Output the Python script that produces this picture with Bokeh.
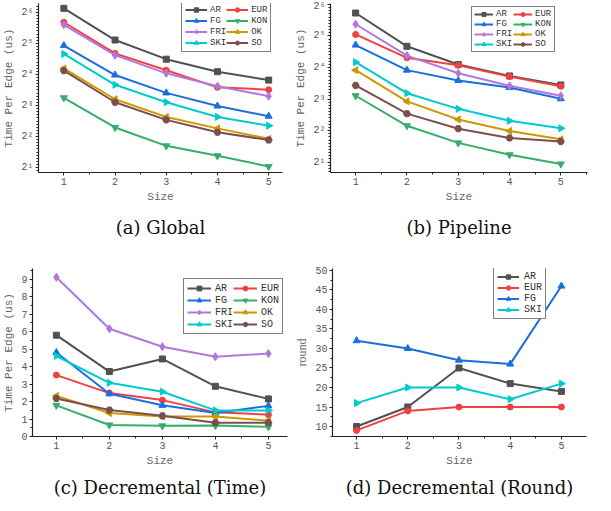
import math
from bokeh.plotting import figure
from bokeh.models import (Legend, LegendItem, SingleIntervalTicker, FixedTicker,
                          CustomJSTickFormatter, Title, Range1d)
from bokeh.layouts import column, row
from bokeh.embed import file_html
from bokeh.resources import INLINE

# ---------------- data ----------------
sizes = [1, 2, 3, 4, 5]
names = ["AR", "EUR", "FG", "KON", "FRI", "OK", "SKI", "SO"]

# (a) Global: time per edge (us)
global_AR = [70.0, 34.5, 22.5, 17.0, 14.1]
global_EUR = [51.3, 25.6, 17.6, 12.0, 11.4]
global_FG = [30.5, 15.8, 10.6, 7.9, 6.3]
global_KON = [9.5, 4.9, 3.25, 2.6, 2.05]
global_FRI = [48.5, 24.6, 16.4, 12.3, 9.85]
global_OK = [18.3, 9.2, 6.2, 4.8, 3.8]
global_SKI = [25.3, 12.7, 8.6, 6.2, 5.1]
global_SO = [17.4, 8.6, 5.8, 4.4, 3.7]

# (b) Pipeline: time per edge (us)
pipe_AR = [53.0, 25.5, 17.1, 13.3, 10.9]
pipe_EUR = [33.1, 19.8, 16.8, 13.1, 10.6]
pipe_FG = [26.2, 15.1, 12.0, 10.3, 8.05]
pipe_KON = [8.6, 4.44, 3.05, 2.35, 1.92]
pipe_FRI = [41.4, 20.8, 14.1, 10.7, 8.6]
pipe_OK = [15.1, 7.6, 5.1, 3.97, 3.3]
pipe_SKI = [18.0, 9.1, 6.45, 4.96, 4.2]
pipe_SO = [10.8, 5.8, 4.17, 3.4, 3.14]

# (c) Decremental (Time): time per edge (us)
dec_AR = [5.79, 3.71, 4.43, 2.87, 2.15]
dec_EUR = [3.51, 2.48, 2.08, 1.38, 1.25]
dec_FG = [4.8, 2.44, 1.78, 1.34, 1.75]
dec_KON = [1.78, 0.66, 0.61, 0.63, 0.55]
dec_FRI = [9.1, 6.16, 5.13, 4.56, 4.74]
dec_OK = [2.32, 1.34, 1.14, 1.14, 0.9]
dec_SKI = [4.6, 3.07, 2.56, 1.49, 1.49]
dec_SO = [2.17, 1.51, 1.18, 0.79, 0.79]

# (d) Decremental (Round): rounds
round_names = ["AR", "EUR", "FG", "SKI"]
round_AR = [10, 15, 25, 21, 19]
round_EUR = [9, 14, 15, 15, 15]
round_FG = [32, 30, 27, 26, 46]
round_SKI = [16, 20, 20, 17, 21]

log2_ticks = [2, 4, 8, 16, 32, 64]

global_data = dict(AR=global_AR, EUR=global_EUR, FG=global_FG, KON=global_KON,
                   FRI=global_FRI, OK=global_OK, SKI=global_SKI, SO=global_SO)
pipe_data = dict(AR=pipe_AR, EUR=pipe_EUR, FG=pipe_FG, KON=pipe_KON,
                 FRI=pipe_FRI, OK=pipe_OK, SKI=pipe_SKI, SO=pipe_SO)
dec_data = dict(AR=dec_AR, EUR=dec_EUR, FG=dec_FG, KON=dec_KON,
                FRI=dec_FRI, OK=dec_OK, SKI=dec_SKI, SO=dec_SO)
round_data = dict(AR=round_AR, EUR=round_EUR, FG=round_FG, SKI=round_SKI)

# ---------------- style ----------------
colors = {"AR": "#515151", "EUR": "#F14040", "FG": "#1A6FDF", "KON": "#37AD6B",
          "FRI": "#B177DE", "OK": "#CC9900", "SKI": "#00CBCC", "SO": "#7D4E4E"}
markers = {"AR": ("square", 0.0), "EUR": ("circle", 0.0), "FG": ("triangle", 0.0),
           "KON": ("inverted_triangle", 0.0), "FRI": ("diamond", 0.0),
           "OK": ("triangle", math.pi / 2), "SKI": ("triangle", -math.pi / 2),
           "SO": ("hex", 0.0)}
marker_size = {"square": 6, "circle": 6, "triangle": 7, "inverted_triangle": 7,
               "diamond": 8, "hex": 7}

TICK_FONT = "Liberation Mono"
CAP_FONT = "DejaVu Serif"

log2_fmt = CustomJSTickFormatter(code="""
const sup = ['\u2070','\u00b9','\u00b2','\u00b3','\u2074','\u2075','\u2076','\u2077','\u2078','\u2079'];
const e = Math.round(Math.log2(tick));
return '2' + sup[e];
""")
log2_minor = [t * 2 ** (i / 10) for t in [1] + log2_ticks for i in range(1, 10)]


def style_axis(ax):
    ax.axis_line_color = "#222222"
    ax.axis_line_width = 1.2
    ax.major_tick_line_color = "#222222"
    ax.minor_tick_line_color = "#222222"
    ax.major_tick_in = 0
    ax.major_tick_out = 3
    ax.minor_tick_in = 0
    ax.minor_tick_out = 2
    ax.major_label_text_font = TICK_FONT
    ax.major_label_text_font_size = "10px"
    ax.major_label_text_color = "#555555"
    ax.major_label_standoff = 2
    ax.axis_label_text_font = TICK_FONT
    ax.axis_label_text_font_size = "11px"
    ax.axis_label_text_font_style = "normal"
    ax.axis_label_text_color = "#666666"
    ax.axis_label_standoff = 3


def make_panel(data, series, x_rng, y_rng, log, width, height, borders, ylabel,
               caption, cap_standoff, legend_xy, ncols, leg, yinterval=None,
               yminor=None, ylabel_font=None):
    left, right, top, bottom = borders
    p = figure(width=width, height=height, output_backend="svg", toolbar_location=None,
               x_range=Range1d(*x_rng), y_range=Range1d(*y_rng),
               y_axis_type="log" if log else "linear", title=None,
               min_border_left=left, min_border_right=right,
               min_border_top=top, min_border_bottom=bottom)
    p.outline_line_color = None
    p.xgrid.visible = False
    p.ygrid.visible = False
    p.background_fill_color = "white"
    p.border_fill_color = "white"

    p.xaxis.ticker = SingleIntervalTicker(interval=1, num_minor_ticks=2)
    if log:
        p.yaxis.ticker = FixedTicker(ticks=log2_ticks, minor_ticks=log2_minor)
        p.yaxis.formatter = log2_fmt
    else:
        p.yaxis.ticker = SingleIntervalTicker(interval=yinterval, num_minor_ticks=yminor)
    for ax in (p.xaxis[0], p.yaxis[0]):
        style_axis(ax)
    p.xaxis.axis_label = "Size"
    p.yaxis.axis_label = ylabel
    if ylabel_font:
        p.yaxis.axis_label_text_font = ylabel_font
        p.yaxis.axis_label_text_font_size = "12px"

    items = {}
    for name in series:
        vals = data[name]
        c = colors[name]
        m, ang = markers[name]
        lr = p.line(sizes, vals, line_color=c, line_width=2)
        sr = p.scatter(sizes, vals, marker=m, angle=ang, size=marker_size[m],
                       fill_color=c, line_color=c)
        items[name] = LegendItem(label=name, renderers=[lr, sr])

    gw, gh, fs, pad, so, lw = leg
    legend = Legend(items=[items[n] for n in series], location=legend_xy,
                    orientation="horizontal" if ncols > 1 else "vertical",
                    ncols=ncols if ncols > 1 else "auto",
                    border_line_color="black", border_line_width=1.2,
                    background_fill_alpha=1.0,
                    padding=pad, spacing=0, margin=0,
                    glyph_width=gw, glyph_height=gh, label_height=gh,
                    label_width=lw, label_standoff=so, label_text_font=TICK_FONT,
                    label_text_font_size=fs, label_text_color="#333333",
                    label_text_baseline="middle")
    p.add_layout(legend)

    cap = Title(text=caption, align="center", text_font=CAP_FONT,
                text_font_size="18px", text_font_style="normal",
                text_color="#111111", standoff=cap_standoff)
    p.add_layout(cap, "below")
    return p


pa = make_panel(global_data, names, (0.505, 5.27), (2 ** 0.842, 2 ** 6.285), True,
                292, 250, (32, 10, 0, 78), "Time Per Edge (us)", "(a) Global", 19,
                (143, 120), 2, (22, 11, "9px", 3, 3, 0))
pb = make_panel(pipe_data, names, (0.51, 5.52), (2 ** 0.67, 2 ** 6.03), True,
                303, 250, (30, 8, 3, 75), "Time Per Edge (us)", "(b) Pipeline", 19,
                (141, 120), 2, (19, 10, "9px", 2, 3, 17))
pc = make_panel(dec_data, names, (0.55, 5.36), (0, 9.6), False,
                292, 253, (30, 5, 13, 65), "Time Per Edge (us)", "(c) Decremental (Time)", 11,
                (151, 102), 2, (24, 12, "10px", 3, 4, 12), yinterval=1, yminor=2)
pd = make_panel(round_data, round_names, (0.53, 5.49), (7.44, 50.5), False,
                303, 253, (32, 9, 18, 62), "round", "(d) Decremental (Round)", 11,
                (161, 117), 1, (22, 11, "10px", 3, 5, 17), yinterval=5, yminor=2,
                ylabel_font="Liberation Serif")

layout = column(row(pa, pb), row(pc, pd))
open("out.html", "w").write(file_html(layout, INLINE))
